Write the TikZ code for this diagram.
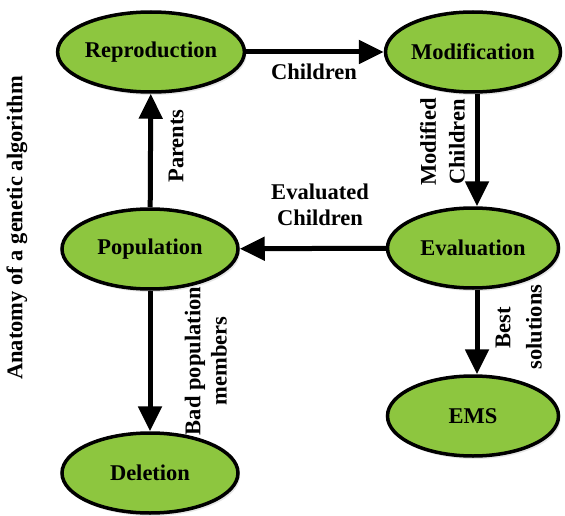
\documentclass[tikz,border=0pt]{standalone}
\usepackage{fontspec}
\setmainfont{Liberation Serif}
\usetikzlibrary{shapes.geometric,arrows.meta,shadows}
\definecolor{nodegreen}{RGB}{141,198,63}
\tikzset{
  stage/.style={ellipse, draw=black, line width=3.5pt, fill=nodegreen,
    minimum width=176pt, minimum height=80pt, inner sep=0pt,
    font=\fontsize{22.5}{25}\selectfont\bfseries,
    drop shadow={opacity=0.2, shadow xshift=2pt, shadow yshift=-3pt}},
  flow/.style={line width=5pt, -{Triangle[length=25pt,width=23pt]}},
  lbl/.style={font=\fontsize{22.5}{25}\selectfont\bfseries, inner sep=0pt, align=center},
}
\begin{document}
\begin{tikzpicture}[x=1pt,y=-1pt]
\useasboundingbox (0,0) rectangle (565,516);
\node[stage] (rep) at (151,52) {Reproduction};
\node[stage, minimum width=171pt] (mod) at (473,52) {Modification};
\node[stage] (pop) at (150,249) {Population};
\node[stage, minimum width=171pt] (eval) at (473,248) {Evaluation};
\node[stage, minimum width=171pt] (ems) at (473,416) {EMS};
\node[stage] (del) at (150,473) {Deletion};

\draw[flow] (rep) -- (mod);
\draw[flow] ([xshift=4pt]mod.south) -- ([xshift=4pt]eval.north);
\draw[flow] (eval) -- (pop);
\draw[flow] (pop) -- (rep);
\draw[flow] (pop) -- (del);
\draw[flow] ([xshift=4pt]eval.south) -- ([xshift=4pt]ems.north);

\node[lbl] (lchild) at (314,72) {Children};
\node[lbl, rotate=90] (lmod1) at (428,142) {Modified};
\node[lbl, rotate=90] (lmod2) at (457,142) {Children};
\node[lbl] (lev1) at (320,192) {Evaluated};
\node[lbl] (lev2) at (320,218) {Children};
\node[lbl, rotate=90] (lpar) at (176,146) {Parents};
\node[lbl, rotate=90] (lbad1) at (195,361) {Bad population};
\node[lbl, rotate=90] (lbad2) at (219,361) {members};
\node[lbl, rotate=90] (lbest1) at (503,328) {Best};
\node[lbl, rotate=90] (lbest2) at (534,327) {solutions};
\node[lbl, rotate=90] (title) at (17,228) {Anatomy of a genetic algorithm};
\end{tikzpicture}
\end{document}
